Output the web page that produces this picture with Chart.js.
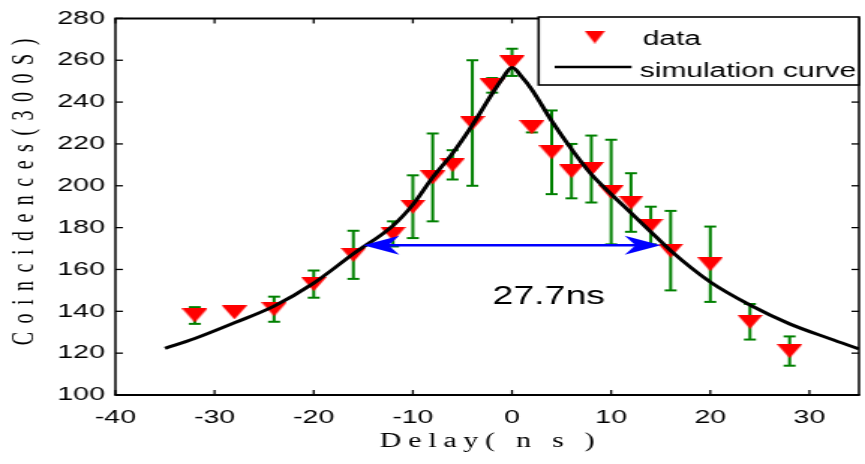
<!DOCTYPE html>
<html>
<head>
<meta charset="utf-8">
<script src="https://cdn.jsdelivr.net/npm/chart.js@4.4.0/dist/chart.umd.min.js"></script>
<style>
html,body{margin:0;padding:0;background:#fff;overflow:hidden}
/* the source figure is stretched sideways, so draw narrow and widen */
#wrap{position:absolute;left:0;top:0;width:577px;height:464px;transform:scaleX(1.4991);transform-origin:0 0}
</style>
</head>
<body>
<div id="wrap"><canvas id="chart"></canvas></div>
<script>
// ─── DATA ───────────────────────────────────────────────────────────
const delays = [-32,-28,-24,-20,-16,-12,-10,-8,-6,-4,-2,0,2,4,6,8,10,12,14,16,20,24,28];
const counts = [138,139.5,141,153,167,177,190,204,210,230,248,259,228,216,207,208,197,192,181,169,162.5,135,121];
const errors = [4,0,6,6.5,11.5,6,15,21,7,30,3.5,6.5,2.5,20,13,16,25,14,9,19,18,8.5,7];

const curveX = [-35,-32,-28,-24,-20,-16,-12,-10,-8,-6,-4,-2,-1,0,1,2,4,6,8,10,12,14,16,20,24,28,32,35];
const curveY = [122.3,127,134.5,142.5,153.5,167.5,181,191,204,215.5,229,244,251,256.5,252,246,231,217.5,205.5,196,187,178,169,154,143,134,127,122];

const fwhmFrom = -15, fwhmTo = 15, fwhmLevel = 171.6;
const fwhmLabel = '27.7ns', fwhmLabelX = 3.7, fwhmLabelY = 147;

const xTitle = 'Delay( n s )';
const yTitle = 'Coincidences(300S)';

const SANS = '"Liberation Sans", Arial, sans-serif';
const SERIF = '"Liberation Serif", "Times New Roman", serif';

// ─── MARKER ─────────────────────────────────────────────────────────
function triMarker(w,h){
  const c=document.createElement('canvas');
  c.width=w; c.height=h;
  const g=c.getContext('2d');
  g.fillStyle='#ff0000';
  g.beginPath(); g.moveTo(0,0); g.lineTo(w,0); g.lineTo(w/2,h); g.closePath(); g.fill();
  return c;
}
const marker = triMarker(17,14);
const legendMarker = triMarker(14,13);

// ─── HELPERS ────────────────────────────────────────────────────────
function line(ctx,x1,y1,x2,y2){ctx.beginPath();ctx.moveTo(x1,y1);ctx.lineTo(x2,y2);ctx.stroke();}

function spacedText(ctx,text,x,y,gap){
  const chars=[...text];
  const widths=chars.map(ch=>ctx.measureText(ch).width);
  const total=widths.reduce((a,b)=>a+b,0)+gap*(chars.length-1);
  let cx=x-total/2;
  ctx.textAlign='left';
  chars.forEach((ch,i)=>{ctx.fillText(ch,cx,y);cx+=widths[i]+gap;});
}

function arrowHead(ctx,tipX,y,dir){
  // dir = +1 points right, -1 points left
  const L=24, H=9.5;
  ctx.beginPath();
  ctx.moveTo(tipX,y);
  ctx.lineTo(tipX-dir*L,y-H);
  ctx.lineTo(tipX-dir*L*0.7,y);
  ctx.lineTo(tipX-dir*L,y+H);
  ctx.closePath();
  ctx.fill();
}

// ─── PLUGIN: matlab-style box, error bars, annotation, legend ──────
const matlabLook={
  id:'matlabLook',
  beforeDatasetsDraw(chart){
    const {ctx,scales:{x,y}}=chart;
    ctx.save();
    ctx.strokeStyle='#008000';
    delays.forEach((d,i)=>{
      if(!errors[i]) return;
      const px=x.getPixelForValue(d);
      const top=y.getPixelForValue(counts[i]+errors[i]);
      const bot=y.getPixelForValue(counts[i]-errors[i]);
      ctx.lineWidth=2;
      line(ctx,px,top,px,bot);
      line(ctx,px-4,top,px+4,top);
      line(ctx,px-4,bot,px+4,bot);
    });
    ctx.restore();
  },
  afterDatasetsDraw(chart){
    const {ctx,scales:{x,y}}=chart;
    ctx.save();
    // FWHM arrow
    const x1=x.getPixelForValue(fwhmFrom), x2=x.getPixelForValue(fwhmTo), py=y.getPixelForValue(fwhmLevel);
    ctx.strokeStyle='#0000ff'; ctx.fillStyle='#0000ff'; ctx.lineWidth=2.5;
    line(ctx,x1+10,py,x2-10,py);
    arrowHead(ctx,x1,py,-1);
    arrowHead(ctx,x2,py,1);
    // label
    ctx.fillStyle='#000';
    ctx.font='25px '+SANS;
    ctx.textAlign='center'; ctx.textBaseline='middle';
    ctx.fillText(fwhmLabel,x.getPixelForValue(fwhmLabelX),y.getPixelForValue(fwhmLabelY));
    ctx.restore();
  },
  afterDraw(chart){
    const {ctx,chartArea:a,scales:{x,y}}=chart;
    ctx.save();
    // box
    ctx.strokeStyle='#000';
    ctx.lineWidth=2;
    line(ctx,a.left-0.75,a.top,a.right+0.75,a.top);
    line(ctx,a.left-0.75,a.bottom,a.right+0.75,a.bottom);
    ctx.lineWidth=1.5;
    line(ctx,a.left,a.top,a.left,a.bottom);
    line(ctx,a.right,a.top,a.right,a.bottom);
    // inward ticks on all sides
    ctx.lineWidth=1.3;
    x.ticks.forEach(t=>{
      const px=x.getPixelForValue(t.value);
      line(ctx,px,a.bottom,px,a.bottom-5);
      line(ctx,px,a.top,px,a.top+5);
    });
    y.ticks.forEach(t=>{
      const py=y.getPixelForValue(t.value);
      line(ctx,a.left,py,a.left+5,py);
      line(ctx,a.right,py,a.right-5,py);
    });
    // axis titles
    ctx.fillStyle='#000';
    ctx.textBaseline='alphabetic';
    ctx.font='20px '+SERIF;
    spacedText(ctx,xTitle,(a.left+a.right)/2,447,4.5);
    ctx.translate(22,192);
    ctx.rotate(-Math.PI/2);
    spacedText(ctx,yTitle,0,0,8.5);
    ctx.restore();

    // legend
    ctx.save();
    const bx=359.3, by=17, bw=a.right-bx, bh=68;
    ctx.fillStyle='#fff';
    ctx.fillRect(bx,by,bw,bh);
    ctx.strokeStyle='#000'; ctx.lineWidth=1.6;
    ctx.strokeRect(bx,by,bw,bh);
    const ds=chart.data.datasets;
    ctx.drawImage(legendMarker,396.7-legendMarker.width/2,37-legendMarker.height/2);
    ctx.lineWidth=2.5;
    line(ctx,370,67,421.3,67);
    ctx.fillStyle='#000';
    ctx.font='20px '+SANS;
    ctx.textAlign='left'; ctx.textBaseline='alphabetic';
    ctx.fillText(ds[1].label,428.7,45);
    ctx.fillText(ds[0].label,426.7,77);
    ctx.restore();
  }
};

// ─── CHART ──────────────────────────────────────────────────────────
const tickFont={family:SANS,size:19};
new Chart(document.getElementById('chart'),{
  type:'line',
  data:{datasets:[
    {label:'simulation curve',data:curveX.map((v,i)=>({x:v,y:curveY[i]})),borderColor:'#000',borderWidth:3,
     pointRadius:0,cubicInterpolationMode:'monotone',fill:false,order:0},
    {label:'data',data:delays.map((v,i)=>({x:v,y:counts[i]})),showLine:false,pointStyle:marker,
     borderWidth:0,order:1}
  ]},
  options:{
    responsive:true,maintainAspectRatio:false,animation:false,
    layout:{padding:{top:12,right:0.6,left:0,bottom:0}},
    plugins:{legend:{display:false},tooltip:{enabled:false}},
    scales:{
      x:{type:'linear',min:-40,max:35,
         afterFit(s){s.height=69;},
         grid:{display:false,drawTicks:false},border:{display:false},
         ticks:{stepSize:10,includeBounds:false,padding:11,color:'#000',font:tickFont}},
      y:{type:'linear',min:100,max:280,
         afterFit(s){s.width=77;},
         grid:{display:false,drawTicks:false},border:{display:false},
         ticks:{stepSize:20,padding:7,color:'#000',font:tickFont}}
    }
  },
  plugins:[matlabLook]
});
</script>
</body>
</html>
